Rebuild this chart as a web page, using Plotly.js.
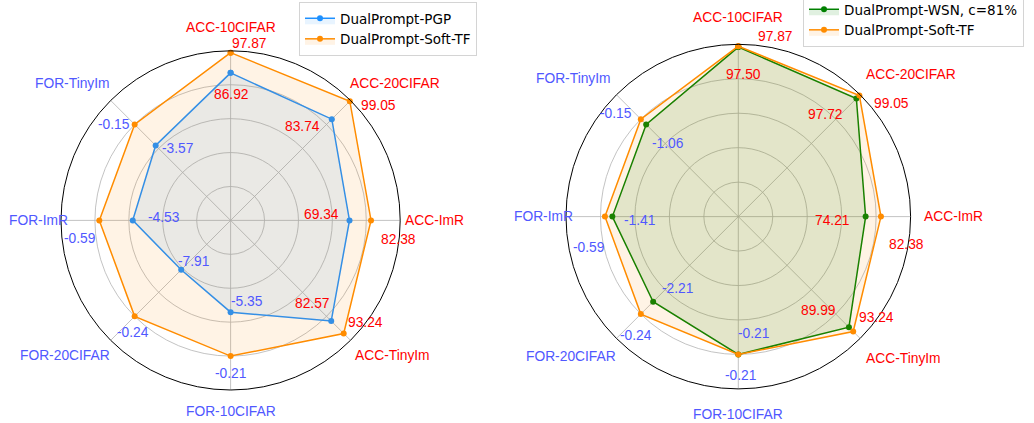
<!DOCTYPE html>
<html><head><meta charset="utf-8">
<script src="https://cdn.plot.ly/plotly-3.0.1.min.js"></script>
<style>html,body{margin:0;padding:0;background:#fff}#chart{width:1034px;height:423px}</style>
</head><body><div id="chart"></div>
<script>
// ---------- data ----------
const categories = ['ACC-10CIFAR','ACC-20CIFAR','ACC-ImR','ACC-TinyIm','FOR-10CIFAR','FOR-20CIFAR','FOR-ImR','FOR-TinyIm'];
const pgpName = 'DualPrompt-PGP';
const softTFName = 'DualPrompt-Soft-TF';
const wsnName = 'DualPrompt-WSN, c=81%';
// reported scores (printed next to the points)
const softTFScores = ['97.87','99.05','82.38','93.24','-0.21','-0.24','-0.59','-0.15'];
const pgpScores    = ['86.92','83.74','69.34','82.57','-5.35','-7.91','-4.53','-3.57'];
const wsnScores    = ['97.50','97.72','74.21','89.99','-0.21','-2.21','-1.41','-1.06'];
// normalised radius of each point
const softTFRadius = [0.989,0.994,0.828,0.943,0.800,0.800,0.774,0.800];
const pgpRadius    = [0.870,0.844,0.701,0.839,0.541,0.412,0.577,0.625];
const wsnRadius    = [0.984,0.969,0.739,0.908,0.800,0.699,0.731,0.756];
const gridValues = [0.2,0.4,0.6,0.8,1.0];

// ---------- styles / layout ----------
const W = 1034, H = 423;
const RED = '#ff0000', BLUE = 'rgb(80,88,255)';
const LABEL_FONT = 'Liberation Sans, Arial, sans-serif';
const catColor = c => c.startsWith('ACC') ? RED : BLUE;

// label offsets (px) from their point
const offLeftSoft = [[18.7,-9.2],[28.2,4.2],[27.9,18.7],[22.3,-10.7],[-0.3,17.7],[-2.1,16.5],[-19.7,17.7],[-21.1,-0.1]];
const offLeftPGP  = [[0.7,21.6],[-29.8,7.2],[-27.5,-6.3],[-19.2,-17.2],[16.7,-10.3],[12.2,-8.8],[30.8,-3.3],[21.8,2.8]];
const offRightSoft= [[37.2,-9.3],[32.3,8.3],[25.9,28],[23.3,-14.2],[1.7,21],[-4.9,21.7],[-16.2,30.4],[-25.1,-5.5]];
const offRightWSN = [[4.7,27.6],[-30.6,16.1],[-32.7,3.4],[-30.5,-16.7],[15.2,-21.3],[24.1,-13.6],[27,4.1],[21.8,19.5]];
// category label placement (radius factor, angle deg)
const catPosLeft  = [[1.138,90],[1.261,39.9],[1.203,0],[1.243,-39.9],[1.129,-90],[1.261,219.2],[1.13,180],[1.232,139.1]];
const catPosRight = [[1.157,90],[1.301,39.5],[1.249,0],[1.264,-40.7],[1.147,-90],[1.268,219.9],[1.129,180],[1.247,140.1]];

const geo = [
  {cx:230.6, cy:220.4, R:169.6},
  {cx:738.3, cy:216.6, R:172.3}
];
const catAngle = i => 90 - 45*i;

function domainOf(g){
  return {x:[(g.cx-g.R)/W,(g.cx+g.R)/W], y:[(H-(g.cy+g.R))/H,(H-(g.cy-g.R))/H]};
}
function polarLayout(g){
  return {
    domain: domainOf(g),
    bgcolor:'rgba(0,0,0,0)',
    radialaxis:{range:[0,1], tickvals:gridValues, showticklabels:false, ticks:'', showline:false,
                gridcolor:'#b4b4b4', gridwidth:0.8},
    angularaxis:{type:'category', categoryarray:categories, rotation:90, direction:'clockwise',
                 showticklabels:false, ticks:'', showline:true, linecolor:'#000', linewidth:1,
                 gridcolor:'#b4b4b4', gridwidth:0.8}
  };
}
function radar(name, radius, color, fill, subplot, legend){
  return {type:'scatterpolar', name:name, subplot:subplot, legend:legend,
    r: radius.concat([radius[0]]), theta: categories.concat([categories[0]]),
    mode:'lines+markers', line:{color:color, width:1.5}, marker:{color:color, size:6},
    fill:'toself', fillcolor:fill, hoverinfo:'skip'};
}
const data = [
  radar(pgpName, pgpRadius, '#1e90ff', 'rgba(30,144,255,0.1)', 'polar', 'legend'),
  radar(softTFName, softTFRadius, '#ff8c00', 'rgba(255,140,0,0.1)', 'polar', 'legend'),
  radar(wsnName, wsnRadius, '#008000', 'rgba(0,128,0,0.12)', 'polar2', 'legend2'),
  radar(softTFName, softTFRadius, '#ff8c00', 'rgba(255,140,0,0.1)', 'polar2', 'legend2')
];

const annotations = [];
function addText(g, rf, ang, dx, dy, text, color){
  const a = ang*Math.PI/180;
  const px = g.cx + rf*g.R*Math.cos(a) + dx;
  const py = g.cy - rf*g.R*Math.sin(a) + dy;
  annotations.push({xref:'paper', yref:'paper', x:px/W, y:1-py/H, xanchor:'center', yanchor:'middle',
    showarrow:false, text:text, font:{family:LABEL_FONT, size:13.8, color:color}});
}
function addValueLabels(g, radius, scores, offs){
  categories.forEach((c,i)=> addText(g, radius[i], catAngle(i), offs[i][0], offs[i][1], scores[i], catColor(c)));
}
function addCategoryLabels(g, pos){
  categories.forEach((c,i)=> addText(g, pos[i][0], pos[i][1], 0, 0, c, catColor(c)));
}
addCategoryLabels(geo[0], catPosLeft);
addCategoryLabels(geo[1], catPosRight);
addValueLabels(geo[0], softTFRadius, softTFScores, offLeftSoft);
addValueLabels(geo[0], pgpRadius, pgpScores, offLeftPGP);
addValueLabels(geo[1], softTFRadius, softTFScores, offRightSoft);
addValueLabels(geo[1], wsnRadius, wsnScores, offRightWSN);

const legendStyle = {xanchor:'left', yanchor:'top', bgcolor:'#ffffff', bordercolor:'#d4d4d4', borderwidth:1,
  font:{family:'DejaVu Sans, sans-serif', size:13.5, color:'#000'}, tracegroupgap:0};
const layout = {
  width:W, height:H, margin:{l:0,r:0,t:0,b:0,autoexpand:false},
  paper_bgcolor:'#fff', showlegend:true,
  polar: polarLayout(geo[0]), polar2: polarLayout(geo[1]),
  legend: Object.assign({x:299/W, y:1-2/H}, legendStyle),
  legend2: Object.assign({x:803/W, y:1+7/H}, legendStyle),
  annotations: annotations
};
Plotly.newPlot('chart', data, layout, {displayModeBar:false, staticPlot:true});
</script></body></html>
